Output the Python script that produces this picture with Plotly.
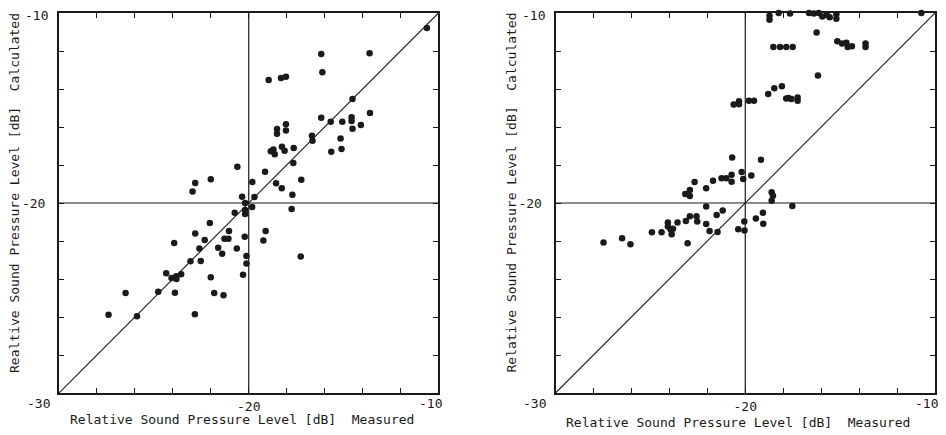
import plotly.graph_objects as go
from plotly.subplots import make_subplots

# ---- data (dB) ----
left_measured = [
    -10.61, -16.18, -13.63, -16.12, -18.95, -18.30, -18.04, -14.53, -13.61, -16.18,
    -15.68, -15.07, -14.58, -14.58, -14.09, -14.53, -18.04, -18.04, -18.51, -18.51,
    -16.67, -16.64, -15.16, -15.65, -15.11, -17.63, -18.25, -18.11, -18.84, -18.70,
    -18.63, -17.65, -19.14, -20.60, -17.23, -19.81, -18.56, -18.26, -17.70, -22.00,
    -22.82, -22.96, -20.35, -19.70, -20.19, -20.19, -20.19, -20.74, -19.82, -17.74,
    -22.05, -22.82, -21.04, -22.32, -19.11, -20.21, -21.28, -21.07, -19.23, -23.93,
    -22.60, -21.61, -20.63, -21.40, -20.12, -17.26, -23.07, -22.53, -20.12, -24.35,
    -24.07, -23.82, -23.56, -23.81, -22.00, -20.30, -26.49, -24.77, -23.89, -21.82,
    -21.33, -27.39, -25.89, -22.84,
]
left_calculated = [
    -10.79, -12.16, -12.12, -13.12, -13.53, -13.42, -13.35, -14.53, -15.26, -15.51,
    -15.72, -15.72, -15.49, -15.68, -15.89, -16.09, -15.86, -16.18, -16.11, -16.35,
    -16.46, -16.72, -16.60, -17.30, -17.16, -17.11, -17.04, -17.25, -17.28, -17.19,
    -17.44, -17.89, -18.35, -18.09, -18.77, -18.89, -18.96, -19.23, -19.56, -18.75,
    -18.95, -19.39, -19.67, -19.68, -20.00, -20.37, -20.58, -20.51, -20.21, -20.32,
    -21.05, -21.61, -21.47, -21.95, -21.47, -21.77, -21.88, -21.88, -21.98, -22.11,
    -22.39, -22.35, -22.39, -22.67, -22.79, -22.81, -23.07, -23.05, -23.18, -23.70,
    -23.95, -23.86, -23.75, -24.00, -23.91, -23.77, -24.74, -24.67, -24.72, -24.74,
    -24.86, -25.88, -25.96, -25.86,
]
right_measured = [
    -18.72, -18.72, -18.24, -17.64, -16.64, -16.38, -16.13, -15.94, -15.70, -15.55,
    -15.20, -15.20, -10.72, -16.24, -15.15, -14.90, -14.67, -14.60, -14.38, -13.66,
    -13.66, -18.52, -18.17, -17.84, -17.50, -16.17, -18.79, -18.47, -18.07, -17.84,
    -17.72, -17.57, -17.24, -17.24, -20.61, -20.33, -20.33, -19.81, -19.54, -20.69,
    -19.17, -21.25, -21.00, -20.72, -20.72, -20.19, -20.11, -19.68, -21.70, -22.67,
    -22.06, -23.16, -22.92, -22.92, -18.61, -18.54, -18.61, -17.52, -22.06, -21.19,
    -21.51, -22.92, -22.57, -22.53, -23.13, -23.57, -24.08, -24.08, -23.94, -23.81,
    -23.88, -24.41, -24.92, -22.06, -21.88, -21.46, -20.37, -20.05, -20.04, -19.44,
    -19.07, -19.05, -23.04, -26.49, -27.47, -26.05,
]
right_calculated = [
    -10.15, -10.35, -10.00, -10.02, -10.00, -10.03, -10.00, -10.18, -10.10, -10.22,
    -10.07, -10.30, -10.00, -11.03, -11.49, -11.61, -11.56, -11.79, -11.75, -11.61,
    -11.79, -11.79, -11.79, -11.79, -11.79, -13.29, -14.26, -13.96, -13.85, -14.50,
    -14.48, -14.52, -14.45, -14.62, -14.82, -14.80, -14.64, -14.62, -14.62, -17.60,
    -17.72, -18.70, -18.70, -18.51, -18.88, -18.37, -18.74, -18.55, -18.83, -18.90,
    -19.23, -19.53, -19.32, -19.63, -19.44, -19.62, -19.88, -20.16, -20.19, -20.40,
    -20.63, -20.70, -20.70, -20.98, -20.95, -21.03, -21.03, -21.24, -21.38, -21.35,
    -21.65, -21.54, -21.54, -21.10, -21.47, -21.52, -21.38, -20.98, -21.45, -20.82,
    -20.51, -21.09, -22.12, -21.86, -22.08, -22.17,
]
assert len(left_measured) == len(left_calculated)
assert len(right_measured) == len(right_calculated)

axis_range = [-30, -10]
tick_vals = [-30, -28, -26, -24, -22, -20, -18, -16, -14, -12, -10]
tick_text = ["", "", "", "", "", "-20", "", "", "", "", ""]
end_labels = ["-30", "-10"]
x_title = "Relative Sound Pressure Level [dB]  Measured"
y_titles = ["Realtive Sound Pressure Level [dB]  Calculated",
            "Relative Sound Pressure Level [dB]  Calculated"]

FONT = "DejaVu Sans Mono"
INK = "#1a1a1a"
TF = dict(family=FONT, size=13, color=INK)

fig = make_subplots(rows=1, cols=2, horizontal_spacing=0.1336)

panels = [(left_measured, left_calculated), (right_measured, right_calculated)]
for i, (mx, cy) in enumerate(panels, start=1):
    # diagonal y = x reference line
    fig.add_trace(go.Scatter(x=axis_range, y=axis_range, mode="lines",
                             line=dict(color=INK, width=1.1),
                             hoverinfo="skip", showlegend=False), row=1, col=i)
    fig.add_trace(go.Scatter(x=mx, y=cy, mode="markers", cliponaxis=False,
                             marker=dict(symbol="circle", size=6.5, color=INK,
                                         line=dict(width=0)),
                             showlegend=False), row=1, col=i)

axis_common = dict(range=axis_range, tickmode="array", tickvals=tick_vals,
                   ticktext=tick_text, ticks="inside", ticklen=5, tickwidth=1,
                   tickcolor=INK, showline=True, linewidth=2, linecolor=INK,
                   mirror="ticks", showgrid=False, zeroline=False,
                   automargin=False, tickfont=TF)
for i in (1, 2):
    fig.update_xaxes(row=1, col=i, **axis_common)
    fig.update_yaxes(row=1, col=i, ticklabelstandoff=9, **axis_common)

# page body has an 8px default margin: size the figure to compensate
fig.update_layout(width=938, height=427,
                  margin=dict(l=51, r=11, t=5, b=42, autoexpand=False),
                  plot_bgcolor="white", paper_bgcolor="white",
                  font=TF)

doms = [fig.layout.xaxis.domain, fig.layout.xaxis2.domain]
xrefs = ["x", "x2"]
yrefs = ["y", "y2"]
for k in range(2):
    xr, yr = xrefs[k], yrefs[k]
    # cross lines at -20 dB
    fig.add_shape(type="line", xref=xr, yref=yr + " domain",
                  x0=-20, x1=-20, y0=0, y1=1, line=dict(color=INK, width=1.2))
    fig.add_shape(type="line", xref=xr + " domain", yref=yr,
                  x0=0, x1=1, y0=-20, y1=-20, line=dict(color=INK, width=1.2))
    d0, d1 = doms[k]
    # "-30" corner label
    fig.add_annotation(xref=xr, yref=yr, x=axis_range[0], y=axis_range[0],
                       xshift=-21, yshift=-10, text=end_labels[0],
                       showarrow=False, xanchor="center", yanchor="middle",
                       font=TF)
    # x "-10" label
    fig.add_annotation(xref=xr, yref=yr, x=axis_range[1], y=axis_range[0],
                       xshift=-8, yshift=-10, text=end_labels[1],
                       showarrow=False, xanchor="center", yanchor="middle",
                       font=TF)
    # y "-10" label
    fig.add_annotation(xref=xr + " domain", yref=yr, x=0, y=axis_range[1],
                       xshift=-9, yshift=-2, text=end_labels[1],
                       showarrow=False, xanchor="right", yanchor="middle",
                       font=TF)
    # x title
    fig.add_annotation(xref="paper", yref="paper", x=(d0 + d1) / 2, y=0,
                       xshift=-7, yshift=-26 - 3 * k, text=x_title, showarrow=False,
                       xanchor="center", yanchor="middle", font=TF)
    # y title
    fig.add_annotation(xref="paper", yref="paper", x=d0, y=0.5, xshift=-45,
                       yshift=10, text=y_titles[k], showarrow=False,
                       textangle=-90, xanchor="center", yanchor="middle",
                       font=TF)

fig.write_html("out.html")
